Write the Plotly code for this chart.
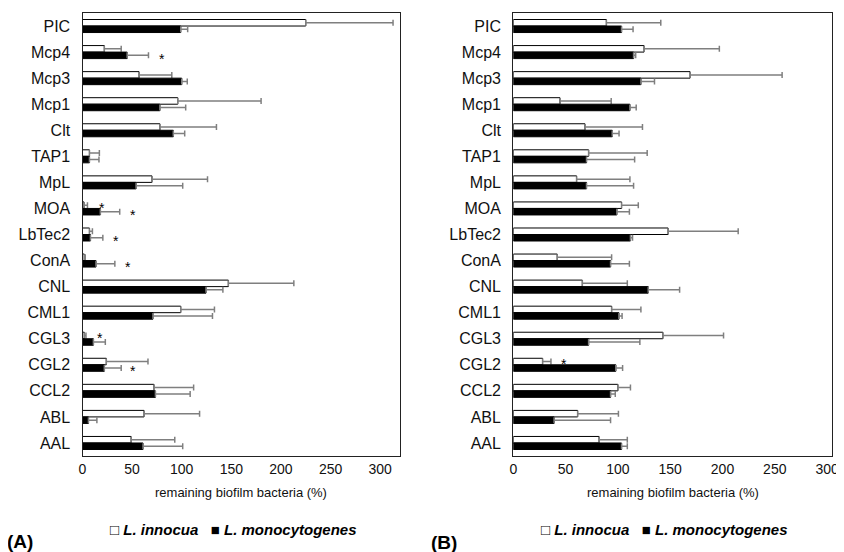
import plotly.graph_objects as go

categories = ["PIC", "Mcp4", "Mcp3", "Mcp1", "Clt", "TAP1", "MpL", "MOA", "LbTec2",
              "ConA", "CNL", "CML1", "CGL3", "CGL2", "CCL2", "ABL", "AAL"]

# Panel A
innocua_A = [225, 22, 57, 96, 78, 7, 70, 1.5, 7, 1.8, 147, 99, 1.8, 24, 72, 62, 49]
innocua_A_err = [88, 17, 33, 84, 57, 10, 56, 3.5, 3, 1, 66, 34, 1.7, 42, 40, 56, 44]
mono_A = [99, 45, 100, 78, 91.5, 7, 54, 18, 8, 13.6, 124.5, 71, 11, 22, 73.5, 6, 61]
mono_A_err = [7, 21.5, 5.6, 26, 11.5, 9.6, 47, 19.5, 12.5, 19, 17, 60, 12, 17, 35, 8.5, 40]

# Panel B
innocua_B = [89, 125, 169, 44.6, 68.5, 72, 60.5, 103.5, 148, 42, 66, 94, 143, 28, 100, 61.5, 82]
innocua_B_err = [52, 72, 88, 49, 55, 56, 51, 16, 67, 52, 43, 28, 58, 8, 12, 39, 27]
mono_B = [103.5, 115, 122, 111.5, 94.6, 70, 70, 99, 112, 93, 129, 101, 72, 98, 93, 39, 103.5]
mono_B_err = [11, 2, 13, 6, 6.5, 46, 45, 12, 2, 18, 30, 3, 49, 6.5, 4.5, 54, 5.5]

# significance stars: (panel, category, series, x position)
stars = [
    ("A", "Mcp4", "mono", 80), ("A", "MOA", "innocua", 19.5), ("A", "MOA", "mono", 51),
    ("A", "LbTec2", "mono", 33.5), ("A", "ConA", "mono", 46), ("A", "CGL3", "innocua", 17.6),
    ("A", "CGL2", "mono", 51), ("B", "CGL2", "innocua", 48),
]

tick_vals = [0, 50, 100, 150, 200, 250, 300]
x_title = "remaining biofilm bacteria (%)"

ERR_COLOR = "#7f7f7f"
W, H, OFF = 844, 552, 8  # page body margin offsets the figure by 8px


def px(x):
    return (x - OFF) / W


def py(y):
    return 1 - (y - OFF) / H


def err(arr):
    return dict(type="data", symmetric=False, array=arr, arrayminus=[0] * len(arr),
                color=ERR_COLOR, thickness=1.5, width=3)


fig = go.Figure()
for xa, ya, inn, inn_e, mono, mono_e in [
    ("x", "y", innocua_A, innocua_A_err, mono_A, mono_A_err),
    ("x2", "y2", innocua_B, innocua_B_err, mono_B, mono_B_err),
]:
    fig.add_trace(go.Bar(y=categories, x=inn, orientation="h", xaxis=xa, yaxis=ya,
                         marker=dict(color="white", line=dict(color="black", width=1)),
                         error_x=err(inn_e), showlegend=False, name="L. innocua"))
    fig.add_trace(go.Bar(y=categories, x=mono, orientation="h", xaxis=xa, yaxis=ya,
                         marker=dict(color="black", line=dict(color="black", width=1)),
                         error_x=err(mono_e), showlegend=False, name="L. monocytogenes"))

sans = "Liberation Sans, Arial"

axis_common = dict(showline=True, mirror=True, linecolor="#222", linewidth=1.3,
                   showgrid=False, zeroline=False, ticks="", automargin=False,
                   tickfont=dict(family=sans, size=14, color="#111"))
ycommon = dict(showline=True, mirror=True, linecolor="#222", linewidth=1.3,
               showgrid=False, zeroline=False, ticks="", autorange="reversed", automargin=False,
               tickfont=dict(family=sans, size=16, color="#111"), ticklabelstandoff=8)

fig.update_layout(
    width=W, height=H, margin=dict(l=0, r=0, t=0, b=0),
    paper_bgcolor="white", plot_bgcolor="white",
    barmode="group", bargap=0.5, bargroupgap=0,
    xaxis=dict(domain=[px(82.5), px(400)], range=[0, 320], tickvals=tick_vals,
               anchor="y", **axis_common),
    yaxis=dict(domain=[py(456), py(13)], anchor="x", **ycommon),
    xaxis2=dict(domain=[px(513.3), px(832)], range=[0, 304.7], tickvals=tick_vals,
                anchor="y2", **axis_common),
    yaxis2=dict(domain=[py(456), py(13)], anchor="x2", **ycommon),
)

annotations = []
for cx in [(82.5 + 400) / 2, (513.3 + 832) / 2]:
    annotations.append(dict(text=x_title, xref="paper", yref="paper", x=px(cx), y=py(492),
                            xanchor="center", yanchor="middle",
                            showarrow=False, font=dict(family=sans, size=13, color="#111")))
    annotations.append(dict(
        text="□ <b><i>L. innocua</i></b>   ■ <b><i>L. monocytogenes</i></b>",
        xref="paper", yref="paper", x=px(cx - 8), y=py(529), showarrow=False,
        xanchor="center", yanchor="middle",
        font=dict(family=sans, size=15, color="black")))
annotations.append(dict(text="<b>(A)</b>", xref="paper", yref="paper", x=px(20), y=py(541),
                        xanchor="center", yanchor="middle",
                        showarrow=False, font=dict(family=sans, size=19, color="black")))
annotations.append(dict(text="<b>(B)</b>", xref="paper", yref="paper", x=px(444), y=py(542),
                        xanchor="center", yanchor="middle",
                        showarrow=False, font=dict(family=sans, size=19, color="black")))
for panel, cat, series, xv in stars:
    xa, ya = ("x", "y") if panel == "A" else ("x2", "y2")
    annotations.append(dict(text="*", xref=xa, yref=ya, x=xv, y=cat, showarrow=False,
                            yshift=(3.5 if series == "innocua" else -3.5) - 3,
                            font=dict(family=sans, size=14, color="black")))
fig.update_layout(annotations=annotations)

fig.write_html("out.html")
